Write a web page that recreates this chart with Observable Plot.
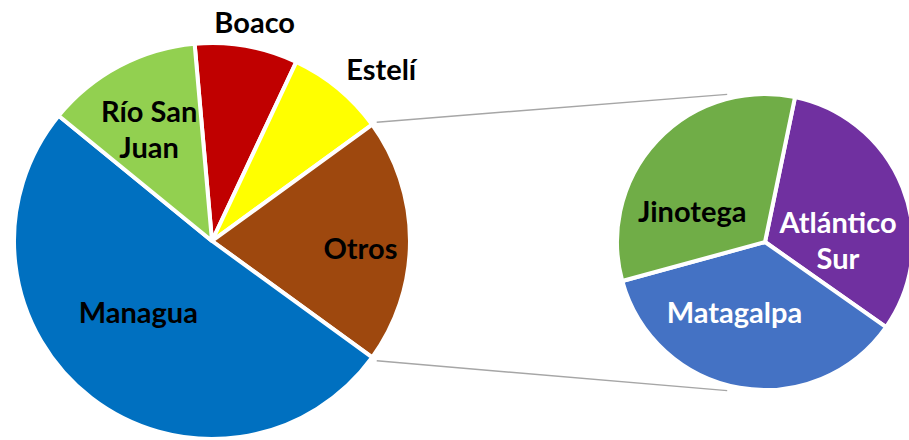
<!DOCTYPE html>
<html>
<head>
<meta charset="utf-8">
<script src="https://cdn.jsdelivr.net/npm/d3@7"></script>
<script src="https://cdn.jsdelivr.net/npm/@observablehq/plot@0.6"></script>
<style>
  html, body { margin: 0; padding: 0; background: #fff; }
  #chart svg { display: block; }
</style>
</head>
<body>
<div id="chart"></div>
<script>
// ---------- DATA ----------
const mainNames  = ["Boaco", "Estelí", "Otros", "Managua", "Río San Juan"];
const mainValues = [8.4, 8.0, 20.0, 50.9, 12.7];
const otherName  = "Otros";
const subNames   = ["Atlántico Sur", "Matagalpa", "Jinotega"];
const subValues  = [6.3, 7.2, 6.5];

// ---------- STYLE ----------
const colors = {
  "Boaco": "#C00000", "Estelí": "#FFFF00", "Otros": "#9E480E",
  "Managua": "#0070C0", "Río San Juan": "#92D050",
  "Atlántico Sur": "#7030A0", "Matagalpa": "#4472C4", "Jinotega": "#70AD47"
};
const labelColor = { "Atlántico Sur": "#fff", "Matagalpa": "#fff" };

// ---------- LAYOUT ----------
const W = 909, H = 440;
const MAIN = { cx: 212, cy: 241, r: 198 };
const SUB  = { cx: 765, cy: 242, r: 148, start: 11.7 };
// label placement: [radius fraction, dx, dy]
const labelPos = {
  "Boaco": [1.131, 3, 0], "Estelí": [1.131, 26, 0], "Otros": [0.747, 0, 6],
  "Managua": [0.515, -12, -11], "Río San Juan": [0.652, -3, 1],
  "Atlántico Sur": [0.527, 0, 26], "Matagalpa": [0.514, -18, -6], "Jinotega": [0.54, -15, 23]
};

const deg = Math.PI / 180;
const mainData = mainNames.map((name, i) => ({ name, value: mainValues[i] }));
const subData  = subNames.map((name, i) => ({ name, value: subValues[i] }));

const pieGen = (start) => d3.pie().sort(null).value(d => d.value).startAngle(start).endAngle(start + 2 * Math.PI);
const a0 = pieGen(0)(mainData).find(a => a.data.name === otherName);
const shift = Math.PI / 2 - (a0.startAngle + a0.endAngle) / 2;
const mainArcs = pieGen(shift)(mainData);
const subArcs  = pieGen(SUB.start * deg)(subData);

const polar = (P, ang, rr) => [P.cx + rr * Math.sin(ang), P.cy - rr * Math.cos(ang)];

// labels
const labels = [];
for (const [arcs, P] of [[mainArcs, MAIN], [subArcs, SUB]]) {
  for (const a of arcs) {
    const [f, dx, dy] = labelPos[a.data.name];
    const [x, y] = polar(P, (a.startAngle + a.endAngle) / 2, f * P.r);
    const n = a.data.name;
    const i = n.lastIndexOf(" ");
    labels.push({ x: x + dx, y: y + dy, text: i > 0 ? n.slice(0, i) + "\n" + n.slice(i + 1) : n,
                  fill: labelColor[n] || "#000" });
  }
}

// connectors from the "Otros" slice edges to the secondary pie
const other = mainArcs.find(a => a.data.name === otherName);
const connectors = [
  { p: polar(MAIN, other.startAngle, MAIN.r + 5), q: polar(SUB, -14.5 * deg, SUB.r + 5) },
  { p: polar(MAIN, other.endAngle,   MAIN.r + 5), q: polar(SUB, 194.5 * deg, SUB.r + 5) }
];

function pieMark(arcs, P) {
  return (index, scales) => {
    const X = scales.x, Y = scales.y;
    const R = X(P.cx + P.r) - X(P.cx);
    const arc = d3.arc().innerRadius(0).outerRadius(R);
    const g = d3.create("svg:g").attr("transform", `translate(${X(P.cx)},${Y(P.cy)})`);
    g.selectAll("path").data(arcs).join("path")
      .attr("d", arc)
      .attr("fill", d => colors[d.data.name])
      .attr("stroke", "#fff")
      .attr("stroke-width", 4)
      .attr("stroke-linejoin", "round");
    return g.node();
  };
}

const chart = Plot.plot({
  width: W, height: H,
  margin: 0,
  x: { domain: [0, W], range: [0, W], axis: null },
  y: { domain: [0, H], range: [0, H], axis: null },
  style: { background: "#fff", overflow: "visible" },
  marks: [
    Plot.link(connectors, {
      x1: d => d.p[0], y1: d => d.p[1], x2: d => d.q[0], y2: d => d.q[1],
      stroke: "#A6A6A6", strokeWidth: 1.5
    }),
    pieMark(mainArcs, MAIN),
    pieMark(subArcs, SUB),
    Plot.text(labels, {
      x: "x", y: "y", text: "text", fill: "fill",
      fontFamily: "Lato", fontWeight: 700, fontSize: 29, lineHeight: 1.24,
      textAnchor: "middle", lineAnchor: "middle"
    })
  ]
});
document.getElementById("chart").appendChild(chart);
</script>
</body>
</html>
